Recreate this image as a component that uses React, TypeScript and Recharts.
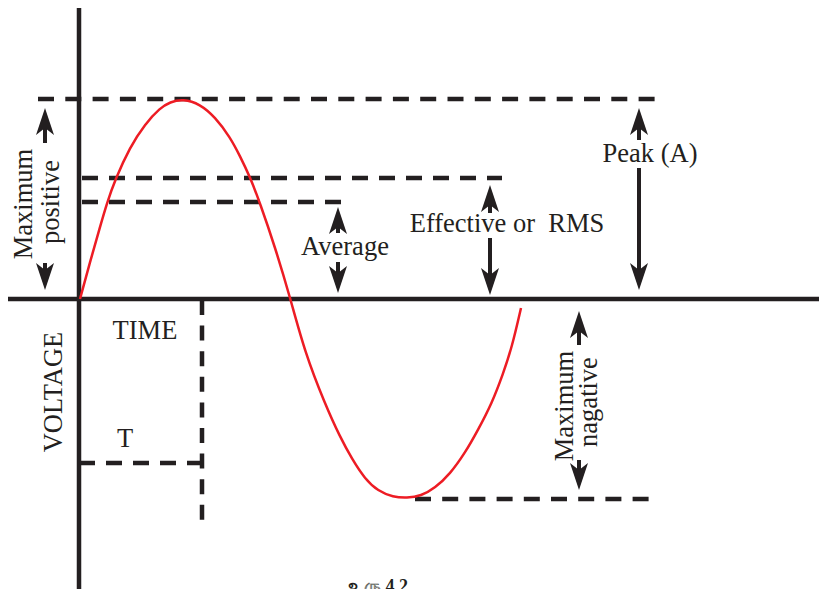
import { ComposedChart, Line, XAxis, YAxis, ReferenceLine, ReferenceDot } from "recharts";

const INK = "#231f20";
const RED = "#ed1c24";
const FONT = '"Liberation Serif", "Times New Roman", serif';

// sine wave (time from origin, voltage)
const waveTime = [2, 12, 22, 29, 37, 52, 67, 82, 92, 105, 122, 137, 152, 162, 172, 182, 197, 212, 227, 247, 262, 274, 287, 300, 315, 329, 343, 357, 372, 387, 400, 414, 425, 434, 443];
const waveVolt = [0, 37, 72, 96, 119, 152, 175, 191, 197, 200, 195, 182, 162, 143, 122, 96, 52, 2, -54, -105, -138, -160, -180, -192, -198, -199, -197, -189, -175, -154, -131, -104, -75, -48, -9];

// axes through the origin: [t1, v1, t2, v2]
const axisLines = [
  [1, 294, 1, -296],
  [-73, 0, 749, 0],
];

// dashed guide lines: [t1, v1, t2, v2, dash, gap]
const guideLines = [
  [-40, 200, 577, 200, 16, 11.3],
  [4, 121, 424, 121, 16, 11],
  [4, 97, 270, 97, 16, 11],
  [337, -200, 577, -200, 16, 11.2],
  [1, -164, 125, -164, 16, 11],
  [124, -1, 124, -221, 15, 10.6],
];

// double arrows: t, up tip, up shaft end, down shaft start, down tip
const arrowT = [-33, 260, 412, 561, 501];
const arrowUpTip = [191, 92, 114, 191, -12];
const arrowUpEnd = [156, 66, 86, 159, -46];
const arrowDownStart = [36, 37, 61, 131, -161];
const arrowDownTip = [9, 6, 4, 9, -191];

const labelText = ["Average", "Effective or  RMS", "Peak (A)", "TIME", "T", "VOLTAGE", "Maximum", "positive", "Maximum", "nagative"];
const labelT = [267, 429, 572, 67, 47, -16, -46, -19, 495, 519];
const labelV = [44, 67, 137, -40, -148, -93, 95, 97, -107, -103];
const labelRotated = [false, false, false, false, false, true, true, true, true, true];

const caption = "உரு 4.2";

const data = waveTime.map((t, i) => ({ t, v: waveVolt[i] }));

function arrowHead(up: boolean) {
  return (p: any) => {
    const s = up ? 1 : -1;
    const { cx, cy } = p;
    const pts = `${cx},${cy} ${cx + 9},${cy + 27 * s} ${cx},${cy + 20 * s} ${cx - 9},${cy + 27 * s}`;
    return <polygon points={pts} fill={INK} />;
  };
}

function textShape(text: string, rotated: boolean, size = 26.5, weight = "normal") {
  return (p: any) => (
    <text
      x={p.cx}
      y={p.cy}
      textAnchor="middle"
      fontFamily={FONT}
      fontSize={size}
      fontWeight={weight}
      fill={INK}
      style={{ whiteSpace: "pre" }}
      transform={rotated ? `rotate(-90 ${p.cx} ${p.cy})` : undefined}
    >
      {text}
    </text>
  );
}

export default function App() {
  return (
    <div style={{ margin: -8, width: 827, height: 597, background: "#fff" }}>
      <ComposedChart width={827} height={597} data={data} margin={{ top: 0, right: 0, bottom: 0, left: 0 }}>
        <XAxis type="number" dataKey="t" domain={[-78, 749]} hide allowDataOverflow />
        <YAxis type="number" domain={[-298, 299]} hide allowDataOverflow />

        {guideLines.map((g, i) => (
          <ReferenceLine
            key={`g${i}`}
            segment={[{ x: g[0], y: g[1] }, { x: g[2], y: g[3] }]}
            stroke={INK}
            strokeWidth={4.5}
            strokeDasharray={`${g[4]} ${g[5]}`}
          />
        ))}

        {axisLines.map((a, i) => (
          <ReferenceLine
            key={`a${i}`}
            segment={[{ x: a[0], y: a[1] }, { x: a[2], y: a[3] }]}
            stroke={INK}
            strokeWidth={4.5}
          />
        ))}

        {arrowT.map((t, i) => (
          <ReferenceLine
            key={`su${i}`}
            segment={[{ x: t, y: arrowUpTip[i] - 12 }, { x: t, y: arrowUpEnd[i] }]}
            stroke={INK}
            strokeWidth={4}
          />
        ))}
        {arrowT.map((t, i) => (
          <ReferenceLine
            key={`sd${i}`}
            segment={[{ x: t, y: arrowDownStart[i] }, { x: t, y: arrowDownTip[i] + 12 }]}
            stroke={INK}
            strokeWidth={4}
          />
        ))}
        {arrowT.map((t, i) => (
          <ReferenceDot key={`hu${i}`} x={t} y={arrowUpTip[i]} shape={arrowHead(true)} />
        ))}
        {arrowT.map((t, i) => (
          <ReferenceDot key={`hd${i}`} x={t} y={arrowDownTip[i]} shape={arrowHead(false)} />
        ))}

        <Line
          type="basis"
          dataKey="v"
          stroke={RED}
          strokeWidth={2.5}
          dot={false}
          activeDot={false}
          isAnimationActive={false}
        />

        {labelText.map((txt, i) => (
          <ReferenceDot key={`l${i}`} x={labelT[i]} y={labelV[i]} shape={textShape(txt, labelRotated[i])} />
        ))}
        <ReferenceDot x={300} y={-293} shape={textShape(caption, false, 18, "bold")} />
      </ComposedChart>
    </div>
  );
}
